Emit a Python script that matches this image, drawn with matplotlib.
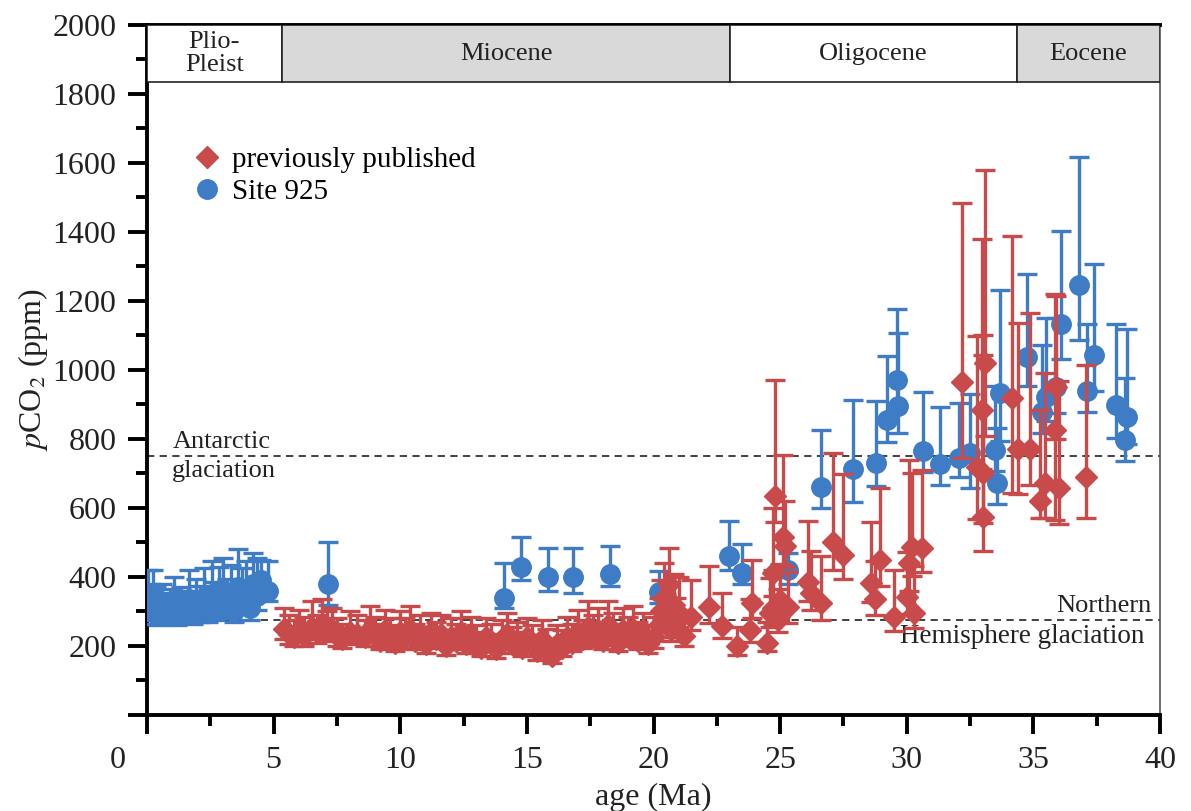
import numpy as np
import matplotlib
matplotlib.use("Agg")
from matplotlib import pyplot as plt
from matplotlib.lines import Line2D
from matplotlib.patches import Rectangle
from matplotlib.ticker import MultipleLocator, FuncFormatter

plt.rcParams['font.family'] = ['Liberation Serif', 'DejaVu Serif']
plt.rcParams['mathtext.fontset'] = 'stix'

# previously published (red diamonds)
red_age = [5.4, 5.6, 5.8, 6.0, 6.2, 6.5, 6.7, 6.9, 7.1, 7.3,
           7.5, 7.7, 8.0, 8.3, 8.6, 8.8, 9.0, 9.2, 9.4, 9.6,
           9.8, 10.0, 10.2, 10.4, 10.6, 10.8, 11.0, 11.2, 11.4, 11.6,
           11.8, 12.0, 12.2, 12.4, 12.6, 12.8, 13.0, 13.2, 13.4, 13.6,
           13.8, 14.0, 14.2, 14.4, 14.6, 14.8, 15.0, 15.2, 15.4, 15.6,
           15.8, 16.0, 16.2, 16.4, 16.6, 16.8, 17.0, 17.2, 17.4, 17.6,
           17.8, 18.0, 18.2, 18.4, 18.6, 18.8, 19.0, 19.2, 19.4, 19.6,
           19.8, 20.0, 20.2, 20.3, 20.4, 20.5, 20.6, 20.7, 20.8, 20.9,
           21.0, 21.2, 21.5, 22.2, 22.7, 23.3, 23.8, 23.9, 24.5, 24.6,
           24.7, 24.7, 24.8, 24.9, 25.0, 25.1, 25.2, 25.3, 26.1, 26.2,
           26.6, 27.1, 27.5, 28.6, 28.75, 28.95, 29.5, 30.0, 30.1, 30.2,
           30.3, 30.6, 32.2, 32.77, 32.97, 33.0, 33.0, 33.1, 34.15, 34.4,
           34.86, 35.25, 35.45, 35.85, 35.9, 36.0, 37.07]
red_co2 = [250, 235, 225, 245, 230, 255, 240, 265, 245, 250,
           230, 220, 240, 235, 225, 250, 230, 215, 245, 225,
           210, 240, 225, 250, 215, 230, 205, 240, 220, 235,
           200, 225, 215, 240, 205, 230, 210, 195, 225, 215,
           190, 220, 235, 205, 215, 195, 225, 210, 185, 220,
           200, 170, 205, 195, 225, 210, 240, 220, 255, 230,
           245, 215, 260, 235, 210, 245, 225, 250, 215, 235,
           205, 225, 260, 300, 340, 280, 380, 245, 320, 270,
           295, 230, 285, 313, 258, 200, 246, 325, 210, 296,
           411, 310, 635, 275, 333, 515, 490, 313, 386, 354,
           325, 500, 464, 383, 335, 449, 284, 342, 440, 487,
           296, 484, 965, 719, 884, 701, 574, 1020, 919, 771,
           771, 620, 672, 826, 950, 658, 690]
red_up = [60, 55, 50, 60, 55, 75, 50, 70, 55, 60,
          50, 45, 60, 55, 50, 65, 55, 50, 60, 55,
          50, 60, 55, 65, 50, 60, 50, 55, 50, 55,
          45, 55, 50, 60, 50, 55, 50, 45, 55, 50,
          45, 55, 60, 50, 55, 45, 55, 50, 45, 55,
          50, 45, 55, 50, 60, 55, 65, 55, 75, 60,
          65, 55, 70, 60, 55, 65, 60, 65, 55, 60,
          55, 60, 80, 90, 100, 70, 105, 65, 90, 70,
          105, 60, 105, 120, 95, 55, 90, 125, 60, 100,
          190, 110, 335, 90, 105, 240, 130, 100, 175, 120,
          135, 260, 235, 175, 110, 210, 135, 130, 300, 215,
          135, 225, 520, 380, 495, 400, 470, 560, 470, 365,
          395, 265, 320, 395, 265, 310, 325]
red_lo = [30, 30, 25, 30, 30, 35, 30, 35, 30, 30,
          30, 25, 30, 30, 25, 30, 30, 25, 30, 30,
          25, 30, 30, 30, 25, 30, 25, 30, 25, 30,
          25, 30, 25, 30, 25, 30, 25, 25, 30, 25,
          25, 30, 30, 25, 30, 25, 30, 25, 25, 30,
          25, 20, 25, 25, 30, 25, 30, 25, 35, 30,
          30, 25, 35, 30, 25, 30, 25, 30, 25, 30,
          25, 30, 35, 40, 45, 35, 50, 30, 45, 35,
          40, 30, 40, 45, 35, 25, 35, 45, 25, 40,
          65, 45, 75, 35, 45, 80, 60, 45, 55, 50,
          50, 80, 70, 55, 45, 75, 40, 50, 80, 85,
          45, 70, 220, 150, 170, 145, 100, 210, 275, 130,
          105, 50, 100, 260, 150, 105, 120]

# Site 925 (blue circles)
blue_age = [0.05, 0.15, 0.25, 0.35, 0.45, 0.6, 0.75, 0.9, 1.05, 1.2,
            1.35, 1.5, 1.65, 1.8, 1.95, 2.1, 2.25, 2.4, 2.55, 2.7,
            2.85, 3.0, 3.15, 3.3, 3.45, 3.6, 3.75, 3.9, 4.05, 4.2,
            4.35, 4.5, 4.78, 7.15, 14.1, 14.77, 15.83, 16.82, 18.3, 20.2,
            22.98, 23.5, 25.3, 26.6, 27.87, 28.8, 29.2, 29.6, 29.65, 30.64,
            31.3, 32.06, 32.5, 33.48, 33.56, 33.68, 34.74, 35.33, 35.5, 35.9,
            36.1, 36.8, 37.1, 37.4, 38.25, 38.6, 38.7]
blue_co2 = [330, 300, 345, 310, 290, 315, 295, 305, 330, 290,
            310, 300, 335, 295, 320, 305, 340, 300, 350, 310,
            330, 360, 315, 345, 300, 370, 335, 355, 310, 380,
            345, 390, 360, 380, 340, 430, 400, 400, 410, 356,
            461, 411, 420, 660, 713, 730, 855, 972, 896, 765,
            727, 745, 759, 768, 672, 933, 1038, 878, 922, 951,
            1133, 1246, 939, 1043, 899, 797, 864]
blue_up = [90, 80, 75, 60, 60, 65, 60, 60, 70, 55,
           60, 60, 85, 55, 75, 70, 85, 60, 95, 75,
           100, 95, 80, 90, 70, 110, 90, 90, 75, 90,
           110, 60, 85, 120, 100, 85, 85, 85, 80, 60,
           100, 85, 50, 165, 200, 180, 185, 205, 210, 170,
           165, 160, 170, 185, 160, 300, 240, 195, 230, 200,
           270, 370, 195, 265, 235, 180, 255]
blue_lo = [40, 35, 40, 35, 30, 35, 30, 35, 40, 30,
           35, 30, 40, 30, 35, 35, 40, 30, 40, 35,
           40, 40, 35, 40, 30, 45, 40, 40, 35, 45,
           40, 45, 30, 60, 30, 40, 40, 45, 35, 30,
           40, 30, 40, 60, 95, 65, 65, 70, 80, 60,
           60, 55, 100, 60, 60, 140, 85, 60, 70, 75,
           100, 160, 60, 105, 95, 60, 80]

epoch_names = ['Plio-\nPleist', 'Miocene', 'Oligocene', 'Eocene']
epoch_start = [0, 5.33, 23.03, 34.35]
epoch_end = [5.33, 23.03, 34.35, 40]
epoch_fill = ['white', '#d9d9d9', 'white', '#d9d9d9']

antarctic = 750
northern = 275

red = '#c94a4a'
blue = '#3e7cc6'
txt = '#222222'

fig = plt.figure(figsize=(11.91, 8.11), dpi=100)
ax = fig.add_axes([0.1234, 0.1184, 0.8506, 0.8508])

ax.errorbar(blue_age, blue_co2, yerr=[blue_lo, blue_up], fmt='o', color=blue,
            ms=14, elinewidth=2.4, capsize=7, capthick=2.4, zorder=3)
ax.errorbar(red_age, red_co2, yerr=[red_lo, red_up], fmt='D', color=red,
            ms=11.5, elinewidth=2.4, capsize=7, capthick=2.4, zorder=4)

ax.axhline(antarctic, color='#333333', ls=(0, (4, 3)), lw=1.3, zorder=2)
ax.axhline(northern, color='#333333', ls=(0, (4, 3)), lw=1.3, zorder=2)
ax.text(1.0, antarctic + 8, 'Antarctic', fontsize=19, ha='left', va='bottom', color=txt)
ax.text(1.0, antarctic - 12, 'glaciation', fontsize=19, ha='left', va='top', color=txt)
ax.text(39.65, northern + 8, 'Northern', fontsize=19, ha='right', va='bottom', color=txt)
ax.text(39.4, northern - 12, 'Hemisphere glaciation', fontsize=19.5, ha='right', va='top', color=txt)

# epoch band
for name, s, e, c in zip(epoch_names, epoch_start, epoch_end, epoch_fill):
    ax.add_patch(Rectangle((s, 1835), e - s, 165, facecolor=c, edgecolor=txt,
                           lw=1.2, zorder=5))
    ax.text((s + e) / 2, 1917, name, fontsize=19, ha='center', va='center',
            linespacing=1.05, zorder=6, color=txt)

ax.set_xlim(0, 40)
ax.set_ylim(0, 2000)
ax.xaxis.set_major_locator(MultipleLocator(5))
ax.xaxis.set_minor_locator(MultipleLocator(2.5))
ax.yaxis.set_major_locator(MultipleLocator(200))
ax.yaxis.set_minor_locator(MultipleLocator(100))
no_zero = FuncFormatter(lambda v, p: '' if v == 0 else '%d' % v)
ax.xaxis.set_major_formatter(no_zero)
ax.yaxis.set_major_formatter(no_zero)
ax.tick_params(which='major', direction='out', length=14, width=2.8, labelsize=23,
               pad=8, labelcolor=txt)
ax.tick_params(which='minor', direction='out', length=8, width=2.8)
for sp in ['left', 'bottom', 'top']:
    ax.spines[sp].set_linewidth(2.8)
ax.spines['right'].set_linewidth(1.2)
ax.spines['right'].set_color('#555555')

# the "0" of the age axis sits left of its tick
ax.annotate('0', xy=(0, 0), xycoords='data', xytext=(-21, -22),
            textcoords='offset points', ha='center', va='top',
            fontsize=23, color=txt, annotation_clip=False)

ax.set_xlabel('age (Ma)', fontsize=23, labelpad=6, color=txt)
ax.set_ylabel(r'$p$CO$_2$ (ppm)', fontsize=23, labelpad=2, color=txt)

handles = [Line2D([], [], marker='D', color=red, ls='none', ms=11),
           Line2D([], [], marker='o', color=blue, ls='none', ms=14)]
ax.legend(handles, ['previously published', 'Site 925'], loc='upper left',
          bbox_to_anchor=(0.019, 0.862), frameon=False, fontsize=21,
          handletextpad=0.35, labelspacing=0.2, handlelength=1.0)

fig.savefig('out.png', dpi=100)
